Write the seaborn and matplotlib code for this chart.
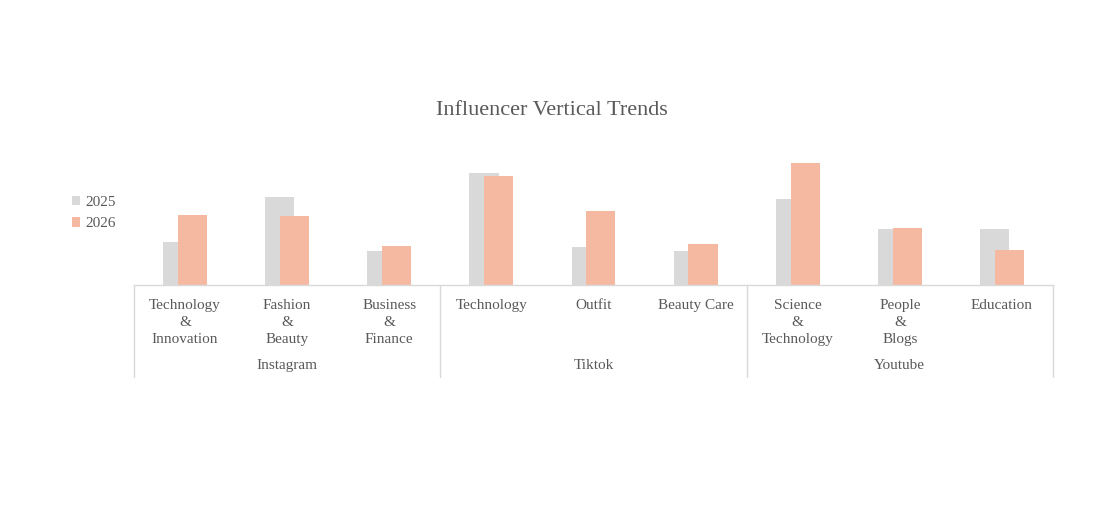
import numpy as np
import pandas as pd
import seaborn as sns
import matplotlib
matplotlib.use("Agg")
import matplotlib.pyplot as plt
from matplotlib.patches import Patch

categories = ["Technology\n&\nInnovation", "Fashion\n&\nBeauty", "Business\n&\nFinance",
              "Technology", "Outfit", "Beauty Care",
              "Science\n&\nTechnology", "People\n&\nBlogs", "Education"]
platforms = ["Instagram", "Tiktok", "Youtube"]
values_2025 = [43, 88, 34, 112, 38, 34, 86, 56, 56]
values_2026 = [70, 69, 39, 109, 74, 41, 122, 57, 35]
series = ["2025", "2026"]

sns.set_theme(style="white")
plt.rcParams['font.family'] = ['Liberation Serif', 'DejaVu Serif']
TXT = "#595959"
C25 = "#D9D9D9"
C26 = "#F4B9A0"
GRID = "#D9D9D9"

df = pd.DataFrame({
    "cat": categories * 2,
    "val": values_2025 + values_2026,
    "year": [series[0]] * len(categories) + [series[1]] * len(categories),
})

fig = plt.figure(figsize=(11.04, 5.13), dpi=100)
W, H = 1104, 513
left, right, base, top = 134, 1053, 285, 145
ax = fig.add_axes([left / W, (H - base) / H, (right - left) / W, (base - top) / H])

bw = 0.285
shift = 0.072
for yr, col, off in [(series[0], C25, -shift), (series[1], C26, shift)]:
    sub = df[df.year == yr]
    sns.barplot(data=sub, x="cat", y="val", color=col, width=bw, ax=ax,
                saturation=1, order=categories, errorbar=None)
    cont = ax.containers[-1]
    for p in cont.patches:
        p.set_x(p.get_x() + off)
        p.set_edgecolor("none")
if ax.get_legend() is not None:
    ax.get_legend().remove()

ax.set_xlim(-0.5, len(categories) - 0.5)
ax.set_ylim(0, base - top)
for s in ["top", "right", "left"]:
    ax.spines[s].set_visible(False)
ax.spines["bottom"].set_color(GRID)
ax.spines["bottom"].set_linewidth(1.0)
ax.set_yticks([])
ax.set_xlabel("")
ax.set_ylabel("")
ax.tick_params(axis="x", length=0, pad=10, labelsize=11, labelcolor=TXT)
for t in ax.get_xticklabels():
    t.set_linespacing(1.4)
    t.set_ha("center")
    t.set_multialignment("center")

# group separators and labels
for b in [-0.5, 2.5, 5.5, 8.5]:
    ax.plot([b, b], [0, -(377 - base)], color=GRID, lw=1.0, clip_on=False)
for i, name in enumerate(platforms):
    ax.text(i * 3 + 1, -(365.5 - base), name, ha="center", va="center",
            fontsize=11, color=TXT)

fig.text(552 / W, 1 - 111 / H, "Influencer Vertical Trends", ha="center", va="center",
         fontsize=16, color=TXT)

# legend
handles = [Patch(facecolor=C25, edgecolor="none"), Patch(facecolor=C26, edgecolor="none")]
fig.legend(handles, series, loc="center left", bbox_to_anchor=(58 / W, 1 - 213 / H),
           frameon=False, fontsize=11, labelcolor=TXT, handlelength=0.55, handleheight=0.6,
           handletextpad=0.35, labelspacing=0.55)

fig.savefig("out.png", dpi=100, facecolor="white")
